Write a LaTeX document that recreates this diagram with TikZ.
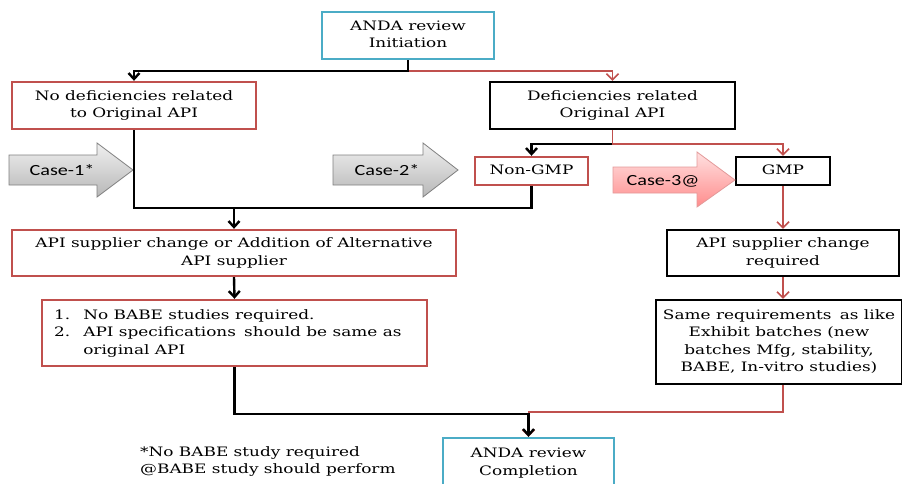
\documentclass[tikz,border=0pt]{standalone}
\usepackage{fontspec}
\usepackage{graphicx}
\setmainfont{DejaVu Serif}
\newfontfamily\casefont{Carlito}
\usetikzlibrary{arrows.meta,calc}
\definecolor{bxred}{HTML}{C0504D}
\definecolor{bxblue}{HTML}{4BACC6}
\definecolor{grayedge}{HTML}{808080}
\definecolor{pinkedge}{HTML}{E39A9A}
\newcommand\hstr[1]{\scalebox{1.3}[1]{\begin{tabular}{@{}c@{}}#1\end{tabular}}}
\newcommand\hstrl[1]{\scalebox{1.3}[1]{\begin{tabular}{@{}l@{}}#1\end{tabular}}}
\begin{document}
\begin{tikzpicture}[x=1pt,y=-1pt,
  every node/.style={font=\fontsize{13}{17.5}\selectfont},
  box/.style={draw, line width=2.4pt, inner sep=0pt, align=center},
  redbox/.style={box, draw=bxred},
  bluebox/.style={box, draw=bxblue},
  blackbox/.style={box, draw=black},
  blk/.style={draw=black, line width=2.4pt},
  rdc/.style={draw=bxred, line width=1.5pt},
  tip/.style={-{Straight Barb[length=6pt,width=11pt]}},
  rtip/.style={-{Straight Barb[length=6pt,width=12pt]}},
  casetxt/.style={font=\casefont\fontsize{15.5}{17}\selectfont},
  grayarrow/.style={draw=grayedge, line width=0.8pt, top color=white!94!black, bottom color=black!28},
  pinkarrow/.style={draw=pinkedge, line width=0.8pt, top color=red!12, bottom color=red!45!white}
]
\useasboundingbox (0,0) rectangle (902,484);

% nodes
\node[bluebox, minimum width=172, minimum height=47] (init) at (408,35.5) {\hstr{ANDA review\\Initiation}};
\node[redbox, minimum width=244, minimum height=47] (nodef) at (134,105.5) {\hstr{No deficiencies related\\to Original API}};
\node[blackbox, minimum width=245, minimum height=47] (def) at (612.5,105.5) {\hstr{Deficiencies related\\Original API}};
\node[redbox, minimum width=113, minimum height=28] (nongmp) at (531.5,171) {\hstr{Non-GMP}};
\node[blackbox, minimum width=94, minimum height=28] (gmp) at (783,171) {\hstr{GMP}};
\node[redbox, minimum width=444, minimum height=46] (api) at (234,253) {\hstr{API supplier change or Addition of Alternative\\API supplier}};
\node[redbox, minimum width=385, minimum height=66] (list) at (234.5,333) {};
\node[anchor=west, inner sep=0pt] (listtxt) at (54,333) {\scalebox{1.3}[1]{\begin{tabular}{@{}l@{\hspace{10pt}}l@{}}1. & No BABE studies required.\\2. & API specifications\, should be same as\\ & original API\end{tabular}}};
\node[blackbox, minimum width=232, minimum height=46] (chg) at (783,253) {\hstr{API supplier change\\required}};
\node[blackbox, minimum width=246, minimum height=84] (same) at (779,342) {\hstr{Same requirements\, as like\\Exhibit batches (new\\batches Mfg, stability,\\BABE, In-vitro studies)}};
\node[bluebox, minimum width=171, minimum height=50] (comp) at (528.5,463) {\hstr{ANDA review\\Completion}};
\node[anchor=west, inner sep=0pt] (note) at (140,461.5) {\hstrl{*No BABE study required\\@BABE study should perform}};

% case arrows
\path[grayarrow] (9,155) -- (97,155) -- (97,143) -- (133,170) -- (97,197) -- (97,185) -- (9,185) -- cycle;
\node[casetxt] (c1) at (62,170) {\scalebox{1.3}[1]{Case-1*}};
\path[grayarrow] (333,155) -- (423,155) -- (423,143) -- (458,170) -- (423,197) -- (423,185) -- (333,185) -- cycle;
\node[casetxt] (c2) at (387,170) {\scalebox{1.3}[1]{Case-2*}};
\path[pinkarrow] (613,167) -- (697,167) -- (697,152) -- (735,180) -- (697,207) -- (697,193) -- (613,193) -- cycle;
\node[casetxt] (c3) at (663,181) {\scalebox{1.3}[1]{Case-3@}};

% connectors
\draw[rdc, rtip] (init.south) -- ++(0,11) -| (def.north);
\draw[blk, tip] (init.south) -- ++(0,11) -| (nodef.north);
\draw[rdc, rtip] (def.south) -- ++(0,14) -| (gmp.north);
\draw[blk, tip] (def.south) ++(0,14) -| (nongmp.north);
\draw[rdc] (def.south) -- ++(0,14.5);
\coordinate (j1) at ($(api.north)+(0,-21)$);
\draw[blk] (nodef.south) |- (j1) -| (nongmp.south);
\draw[blk, tip] (j1) -- (api.north);
\draw[blk, tip] (api.south) -- (list.north);
\draw[rdc, rtip] (gmp.south) -- (chg.north);
\draw[rdc, rtip] (chg.south) -- (chg.south |- same.north);
\draw[rdc, rtip] (same.south -| chg.south) -- ++(0,27) -| (comp.north);
\draw[blk, tip] (list.south) -- ++(0,47) -| (comp.north);
\end{tikzpicture}
\end{document}
